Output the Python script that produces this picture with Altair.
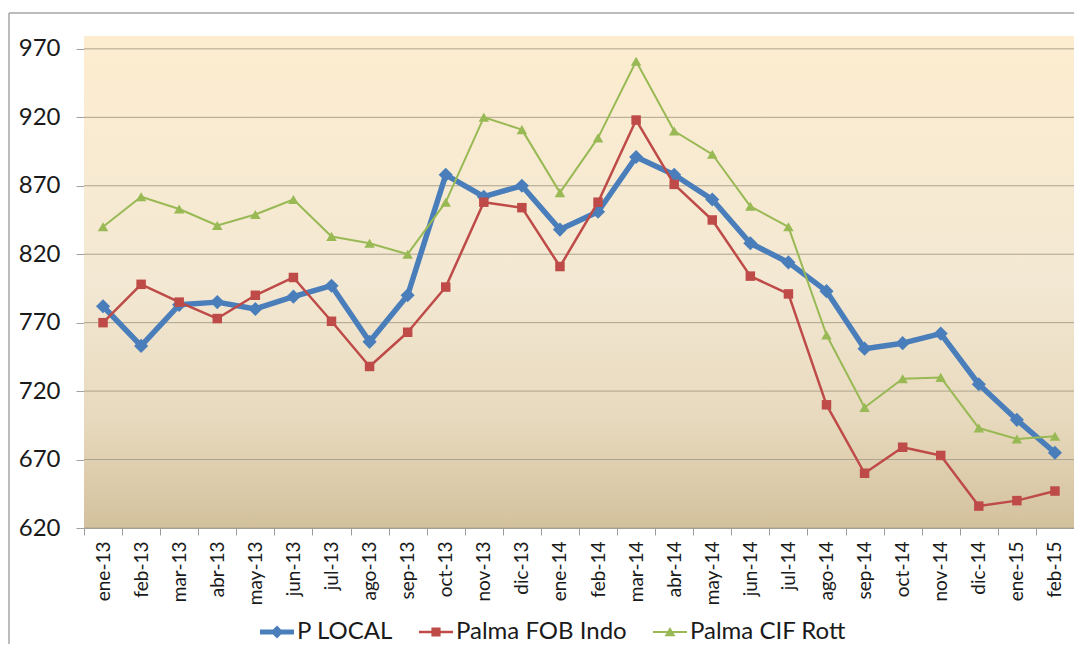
import altair as alt
import pandas as pd

meses = ["ene-13", "feb-13", "mar-13", "abr-13", "may-13", "jun-13", "jul-13", "ago-13",
         "sep-13", "oct-13", "nov-13", "dic-13", "ene-14", "feb-14", "mar-14", "abr-14",
         "may-14", "jun-14", "jul-14", "ago-14", "sep-14", "oct-14", "nov-14", "dic-14",
         "ene-15", "feb-15"]
p_local = [782, 753, 783, 785, 780, 789, 797, 756, 790, 878, 862, 870, 838, 851, 891, 878,
           860, 828, 814, 793, 751, 755, 762, 725, 699, 675]
fob_indo = [770, 798, 785, 773, 790, 803, 771, 738, 763, 796, 858, 854, 811, 858, 918, 871,
            845, 804, 791, 710, 660, 679, 673, 636, 640, 647]
cif_rott = [840, 862, 853, 841, 849, 860, 833, 828, 820, 858, 920, 911, 865, 905, 961, 910,
            893, 855, 840, 761, 708, 729, 730, 693, 685, 687]
series = ["P LOCAL", "Palma FOB Indo", "Palma CIF Rott"]
colors = ["#4A7EBB", "#BE4B48", "#98B954"]
y_ticks = [620, 670, 720, 770, 820, 870, 920, 970]

W, H = 990, 492
FONT = "Lato"

rows = []
for name, vals in zip(series, [p_local, fob_indo, cif_rott]):
    for m, v in zip(meses, vals):
        rows.append({"mes": m, "serie": name, "valor": v})
df = pd.DataFrame(rows)
one = pd.DataFrame({"k": [0]})

x_enc = alt.X("mes:N", sort=meses, bandPosition=0.5,
              scale=alt.Scale(type="band", domain=meses, paddingInner=0, paddingOuter=0),
              axis=alt.Axis(title=None, labelAngle=-90, labelFont=FONT, labelFontSize=19,
                            labelColor="#1a1a1a", labelPadding=6, tickSize=7,
                            tickColor="#9a9a9a", domainColor="#9a9a9a", tickBand="extent",
                            grid=False, labelBaseline="middle", labelAlign="right"))
y_scale = alt.Scale(domain=[620, 979.4], nice=False, zero=False)
y_axis = alt.Axis(title=None, values=y_ticks, labelFont=FONT, labelFontSize=24,
                  labelColor="#1a1a1a", labelPadding=16, tickSize=8, tickColor="#a0a0a0",
                  domainColor="#c8c0b0", grid=False)

gradient = alt.LinearGradient(
    gradient="linear", x1=0, x2=0, y1=0, y2=1,
    stops=[alt.GradientStop(color="#FDEDD0", offset=0),
           alt.GradientStop(color="#F3E8D3", offset=0.5),
           alt.GradientStop(color="#E7D9BD", offset=0.78),
           alt.GradientStop(color="#D3C19D", offset=1)])

bg = alt.Chart(one).mark_rect(color=gradient).encode(
    x=alt.value(0), x2=alt.value(W), y=alt.value(0), y2=alt.value(H))

grid = alt.Chart(pd.DataFrame({"valor": y_ticks})).mark_rule(
    color="#ADA38D", strokeWidth=1).encode(
    y=alt.Y("valor:Q", scale=y_scale, axis=y_axis), x=alt.value(0), x2=alt.value(W))

frame_h = alt.Chart(one).mark_rule(color="#A6A6A6", strokeWidth=1.5).encode(
    x=alt.value(-75), x2=alt.value(W), y=alt.value(-23))
frame_v = alt.Chart(one).mark_rule(color="#A6A6A6", strokeWidth=1.5).encode(
    x=alt.value(-75), y=alt.value(-23), y2=alt.value(H + 120))

layers = [bg, grid, frame_h, frame_v]
styles = [("diamond", 200, 5.5), ("square", 90, 2.5), ("triangle-up", 110, 2)]
for name, col, (shape, size, sw) in zip(series, colors, styles):
    base = alt.Chart(df).transform_filter(alt.datum.serie == name).encode(
        x=x_enc, y=alt.Y("valor:Q", scale=y_scale, axis=y_axis))
    layers.append(base.mark_line(color=col, strokeWidth=sw, strokeJoin="round"))
    layers.append(base.mark_point(filled=True, opacity=1, shape=shape, size=size, color=col))

paths = [
    "M-1,-0.15L1,-0.15L1,0.15L-1,0.15Z M0,-0.38L0.38,0L0,0.38L-0.38,0Z",
    "M-1,-0.08L1,-0.08L1,0.08L-1,0.08Z M-0.27,-0.27L0.27,-0.27L0.27,0.27L-0.27,0.27Z",
    "M-1,-0.06L1,-0.06L1,0.06L-1,0.06Z M0,-0.3L0.32,0.25L-0.32,0.25Z",
]
leg = alt.Legend(orient="none", legendX=176, legendY=579, direction="horizontal", title=None,
                 labelFont=FONT, labelFontSize=24, labelColor="#1a1a1a", symbolSize=1156,
                 symbolStrokeWidth=0, symbolOpacity=1, columnPadding=26, labelOffset=3,
                 padding=0, labelLimit=0)
legend_layer = alt.Chart(df).transform_filter("false").mark_point(
    filled=True, opacity=1).encode(
    shape=alt.Shape("serie:N", scale=alt.Scale(domain=series, range=paths), legend=leg),
    fill=alt.Fill("serie:N", scale=alt.Scale(domain=series, range=colors), legend=leg))
layers.append(legend_layer)

chart = alt.layer(*layers).properties(
    width=W, height=H,
    autosize=alt.AutoSizeParams(type="none"),
    padding={"left": 76, "top": 28, "right": 0, "bottom": 116},
    background="white",
).configure_view(stroke=None)

chart.save("out.html", embed_options={"renderer": "svg", "actions": False})
